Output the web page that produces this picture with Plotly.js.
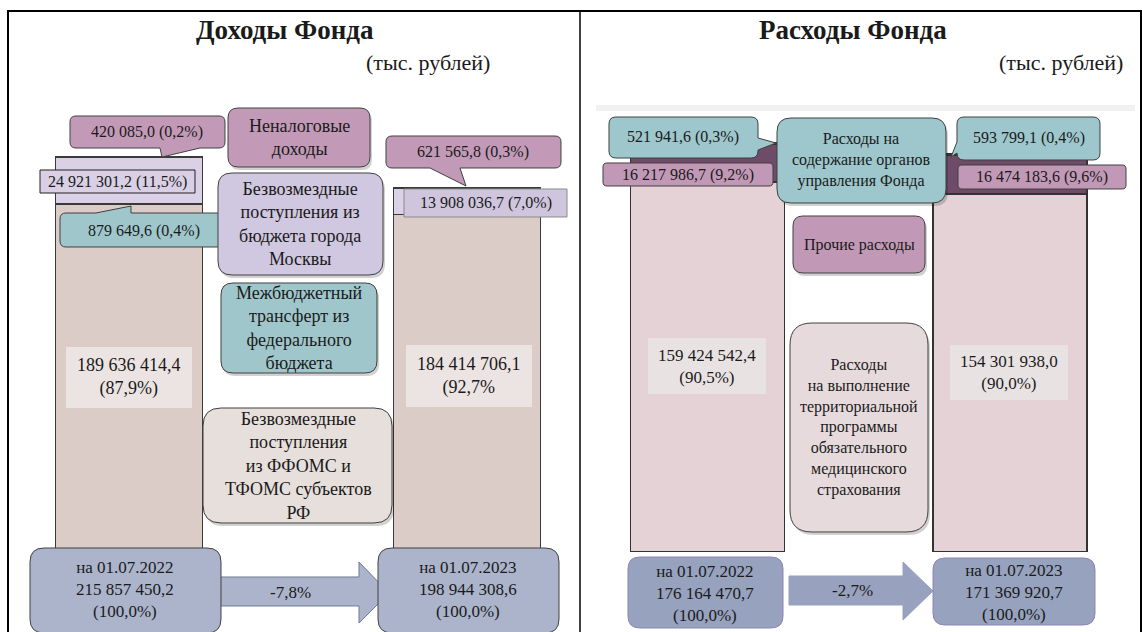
<!DOCTYPE html>
<html><head><meta charset="utf-8">
<script src="https://cdn.plot.ly/plotly-3.0.1.min.js"></script>
<style>
html,body{margin:0;padding:0;background:#fff}
#chart svg text{font-family:'Liberation Serif',serif !important;}
</style>
</head><body><div id="chart" style="width:1142px;height:632px"></div>
<script>
// ---------- DATA ----------
const dates = ['на 01.07.2022', 'на 01.07.2023'];
// Доходы (тыс. рублей)
const incFFOMS    = [189636414.4, 184414706.1];
const incTransfer = [879649.6, 0];
const incMoscow   = [24921301.2, 13908036.7];
const incNonTax   = [420085.0, 621565.8];
const incTotal    = [215857450.2, 198944308.6];
const incFFOMSPct    = ['(87,9%)', '(92,7%'];
const incTransferPct = ['(0,4%)', ''];
const incMoscowPct   = ['(11,5%)', '(7,0%)'];
const incNonTaxPct   = ['(0,2%)', '(0,3%)'];
const incChange = '-7,8%';
// Расходы (тыс. рублей)
const expTPOMS  = [159424542.4, 154301938.0];
const expOther  = [16217986.7, 16474183.6];
const expAdmin  = [521941.6, 593799.1];
const expTotal  = [176164470.7, 171369920.7];
const expTPOMSPct = ['(90,5%)', '(90,0%)'];
const expOtherPct = ['(9,2%)', '(9,6%)'];
const expAdminPct = ['(0,3%)', '(0,4%)'];
const expChange = '-2,7%';
const totalPct = '(100,0%)';

// ---------- HELPERS ----------
const W = 1142, H = 632;
const X = p => p / W, Y = p => 1 - p / H;
const P = (x, y) => X(x).toFixed(5) + ',' + Y(y).toFixed(5);
function fmt(v) {
  const s = v.toFixed(1).split('.');
  return s[0].replace(/\B(?=(\d{3})+(?!\d))/g, ' ') + ',' + s[1];
}
function boxPath(x0, y0, x1, y1, r, t) {
  let s = 'M' + P(x0 + r, y0);
  if (t && t.side === 'top') s += ' L' + P(t.a, y0) + ' L' + P(t.tx, t.ty) + ' L' + P(t.b, y0);
  s += ' L' + P(x1 - r, y0);
  if (r > 0) s += ' Q' + P(x1, y0) + ' ' + P(x1, y0 + r);
  if (t && t.side === 'right') s += ' L' + P(x1, t.a) + ' L' + P(t.tx, t.ty) + ' L' + P(x1, t.b);
  s += ' L' + P(x1, y1 - r);
  if (r > 0) s += ' Q' + P(x1, y1) + ' ' + P(x1 - r, y1);
  if (t && t.side === 'bottom') s += ' L' + P(t.b, y1) + ' L' + P(t.tx, t.ty) + ' L' + P(t.a, y1);
  s += ' L' + P(x0 + r, y1);
  if (r > 0) s += ' Q' + P(x0, y1) + ' ' + P(x0, y1 - r);
  if (t && t.side === 'left') s += ' L' + P(x0, t.b) + ' L' + P(t.tx, t.ty) + ' L' + P(x0, t.a);
  s += ' L' + P(x0, y0 + r);
  if (r > 0) s += ' Q' + P(x0, y0) + ' ' + P(x0 + r, y0);
  return s + ' Z';
}
const shapes = [];
const annotations = [];
function box(x0, y0, x1, y1, r, fill, line, lw, tail, shadow) {
  if (shadow) shapes.push({type: 'path', xref: 'paper', yref: 'paper', path: boxPath(x0 + 2, y0 + 3, x1 + 2, y1 + 3, r, null),
    fillcolor: 'rgba(0,0,0,0.18)', line: {width: 0}, layer: 'above'});
  shapes.push({type: 'path', xref: 'paper', yref: 'paper', path: boxPath(x0, y0, x1, y1, r, tail),
    fillcolor: fill, line: {color: line, width: lw}, layer: 'above'});
}
function poly(pts, fill, line, lw) {
  shapes.push({type: 'path', xref: 'paper', yref: 'paper',
    path: 'M' + pts.map(p => P(p[0], p[1])).join(' L') + ' Z',
    fillcolor: fill, line: {color: line, width: lw}, layer: 'above'});
}
const FONT = 'Liberation Serif';
function T(cx, cy, text, size) {
  annotations.push({xref: 'paper', yref: 'paper', x: X(cx), y: Y(cy),
    xanchor: 'center', yanchor: 'middle', showarrow: false, text: text,
    font: {family: FONT, size: size, color: '#1a1a1a'}});
}

// ---------- FRAME ----------
shapes.push({type: 'rect', xref: 'paper', yref: 'paper', x0: X(8), x1: X(1141), y0: Y(634), y1: Y(11),
  line: {color: '#000', width: 2}, fillcolor: 'rgba(0,0,0,0)', layer: 'below'});
shapes.push({type: 'line', xref: 'paper', yref: 'paper', x0: X(580), x1: X(580), y0: Y(11), y1: Y(634),
  line: {color: '#000', width: 1.5}, layer: 'below'});
shapes.push({type: 'rect', xref: 'paper', yref: 'paper', x0: X(596), x1: X(1135), y0: Y(111), y1: Y(105),
  line: {width: 0}, fillcolor: '#f1f1f1', layer: 'below'});

T(285, 30, '<b>Доходы Фонда</b>', 27);
T(428, 63, '(тыс. рублей)', 22);
T(853, 30, '<b>Расходы Фонда</b>', 27);
T(1061, 63, '(тыс. рублей)', 22);

// ---------- LEFT PANEL ----------
const DK = '#404040';
box(70, 116, 225, 148, 6, '#c29ab8', DK, 1, {side: 'bottom', a: 160, b: 200, tx: 162, ty: 157});
T(147, 132, fmt(incNonTax[0]) + ' ' + incNonTaxPct[0], 16);
box(228, 108, 370, 167, 10, '#c29ab8', DK, 1, null, true);
T(299, 137, 'Неналоговые<br>доходы', 18);
box(40, 170, 195, 193, 0, '#d9d0e6', '#222', 1);
T(117, 182, fmt(incMoscow[0]) + ' ' + incMoscowPct[0], 16);
box(60, 213, 229, 247, 6, '#9fc7cb', DK, 1, {side: 'top', a: 96, b: 131, tx: 131, ty: 206});
T(144, 231, fmt(incTransfer[0]) + ' ' + incTransferPct[0], 16);
box(218, 173, 383, 275, 14, '#d0c7e0', DK, 1, null, true);
T(300, 224, 'Безвозмездные<br>поступления из<br>бюджета города<br>Москвы', 18);
box(221, 283, 377, 373, 12, '#9fc7cb', DK, 1, null, true);
T(299, 328, 'Межбюджетный<br>трансферт из<br>федерального<br>бюджета', 18);
box(386, 136, 561, 168, 6, '#c29ab8', DK, 1, {side: 'bottom', a: 430, b: 460, tx: 466, ty: 186});
T(473, 152, fmt(incNonTax[1]) + ' ' + incNonTaxPct[1], 16);
box(404, 189, 567, 217, 0, '#cfc6de', '#8a8a8a', 1);
T(486, 203, fmt(incMoscow[1]) + ' ' + incMoscowPct[1], 16);
box(66, 347, 192, 408, 0, '#ebe4e2', 'rgba(0,0,0,0)', 0);
T(129, 377, fmt(incFFOMS[0]) + '<br>' + incFFOMSPct[0], 18);
box(406, 345, 532, 407, 0, '#ebe4e2', 'rgba(0,0,0,0)', 0);
T(469, 376, fmt(incFFOMS[1]) + '<br>' + incFFOMSPct[1], 18);
box(203, 408, 392, 523, 18, '#e6dfdc', DK, 1, null, true);
T(298, 466, 'Безвозмездные<br>поступления<br>из ФФОМС и<br>ТФОМС субъектов<br>РФ', 18);
// bottom
poly([[205, 577], [359, 577], [359, 562], [389, 593], [359, 623], [359, 606], [205, 606]], '#abb4cb', '#6f7a94', 1);
T(290, 592, incChange, 17);
box(30, 548, 221, 633, 14, '#abb4cb', DK, 1);
T(125, 589, dates[0] + '<br>' + fmt(incTotal[0]) + '<br>' + totalPct, 17);
box(378, 548, 559, 633, 14, '#abb4cb', DK, 1);
T(468, 589, dates[1] + '<br>' + fmt(incTotal[1]) + '<br>' + totalPct, 17);

// ---------- RIGHT PANEL ----------
box(609, 117, 758, 158, 7, '#9dc7cc', DK, 1, {side: 'right', a: 138, b: 150, tx: 776, ty: 143});
T(683, 137, fmt(expAdmin[0]) + ' ' + expAdminPct[0], 16);
box(603, 163, 773, 186, 4, '#c199b7', DK, 1);
T(688, 175, fmt(expOther[0]) + ' ' + expOtherPct[0], 16);
box(777, 118, 946, 203, 14, '#9dc7cc', DK, 1, null, true);
T(861, 160, 'Расходы на<br>содержание органов<br>управления Фонда', 16);
box(793, 216, 925, 273, 10, '#c199b7', DK, 1, null, true);
T(859, 245, 'Прочие расходы', 16);
box(957, 117, 1100, 160, 7, '#9dc7cc', DK, 1, {side: 'left', a: 142, b: 153, tx: 951, ty: 157});
T(1029, 138, fmt(expAdmin[1]) + ' ' + expAdminPct[1], 16);
box(958, 165, 1126, 189, 4, '#c199b7', DK, 1);
T(1042, 177, fmt(expOther[1]) + ' ' + expOtherPct[1], 16);
box(648, 338, 766, 394, 0, '#e9e2e3', 'rgba(0,0,0,0)', 0);
T(707, 366, fmt(expTPOMS[0]) + '<br>' + expTPOMSPct[0], 17);
box(950, 345, 1068, 400, 0, '#e9e2e3', 'rgba(0,0,0,0)', 0);
T(1009, 372, fmt(expTPOMS[1]) + '<br>' + expTPOMSPct[1], 17);
box(790, 323, 928, 532, 22, '#e6dadd', DK, 1, null, true);
T(859, 427, 'Расходы<br>на выполнение<br>территориальной<br>программы<br>обязательного<br>медицинского<br>страхования', 16);
// bottom
poly([[789, 576], [903, 576], [903, 562], [933, 591], [903, 620], [903, 605], [789, 605]], '#98a2bf', '#98a2bf', 1);
T(852, 590, expChange, 17);
box(628, 557, 783, 628, 12, '#97a2bf', '#8d84b8', 1);
T(705, 593, dates[0] + '<br>' + fmt(expTotal[0]) + '<br>' + totalPct, 17);
box(933, 558, 1095, 625, 12, '#97a2bf', '#8d84b8', 1);
T(1014, 592, dates[1] + '<br>' + fmt(expTotal[1]) + '<br>' + totalPct, 17);

// ---------- TRACES ----------
const LW = 0.435, RW = 0.509;
const lline = {color: '#3a3a3a', width: 1};
const rline = {color: '#333', width: 1.6};
const traces = [
  {type: 'bar', x: dates, y: incFFOMS, name: 'ФФОМС', marker: {color: '#dbccc7', line: lline}, width: LW, xaxis: 'x', yaxis: 'y'},
  {type: 'bar', x: dates, y: incTransfer, name: 'Межбюджетный трансферт', marker: {color: '#9fc7cb', line: lline}, width: LW, xaxis: 'x', yaxis: 'y'},
  {type: 'bar', x: dates, y: incMoscow, name: 'Бюджет Москвы', marker: {color: '#dad1e7', line: lline}, width: LW, xaxis: 'x', yaxis: 'y'},
  {type: 'bar', x: dates, y: incNonTax, name: 'Неналоговые доходы', marker: {color: '#3f6e70', line: lline}, width: LW, xaxis: 'x', yaxis: 'y'},
  {type: 'bar', x: dates, y: expTPOMS, name: 'ТПОМС', marker: {color: '#e5d2d7', line: rline}, width: RW, xaxis: 'x2', yaxis: 'y2'},
  {type: 'bar', x: dates, y: expOther, name: 'Прочие расходы', marker: {color: '#6d4b69', line: rline}, width: RW, xaxis: 'x2', yaxis: 'y2'},
  {type: 'bar', x: dates, y: expAdmin, name: 'Органы управления', marker: {color: '#5c3f58', line: rline}, width: RW, xaxis: 'x2', yaxis: 'y2'}
];
const hid = {visible: false, showgrid: false, zeroline: false, fixedrange: true};
const layout = {
  width: W, height: H, margin: {l: 0, r: 0, t: 0, b: 0},
  paper_bgcolor: '#fff', plot_bgcolor: 'rgba(0,0,0,0)',
  barmode: 'stack', showlegend: false, hovermode: false,
  font: {family: FONT, size: 16, color: '#1a1a1a'},
  xaxis: Object.assign({type: 'category', range: [-0.3, 1.3], domain: [27.6 / W, 568 / W], anchor: 'y'}, hid),
  yaxis: Object.assign({range: [0, 250e6], domain: [82 / H, 537.2 / H], anchor: 'x'}, hid),
  xaxis2: Object.assign({type: 'category', range: [-0.3, 1.3], domain: [616.75 / W, 1100.75 / W], anchor: 'y2'}, hid),
  yaxis2: Object.assign({range: [0, 200e6], domain: [80 / H, 544.34 / H], anchor: 'x2'}, hid),
  shapes: shapes, annotations: annotations
};
Plotly.newPlot('chart', traces, layout, {displayModeBar: false, staticPlot: true});
</script></body></html>
